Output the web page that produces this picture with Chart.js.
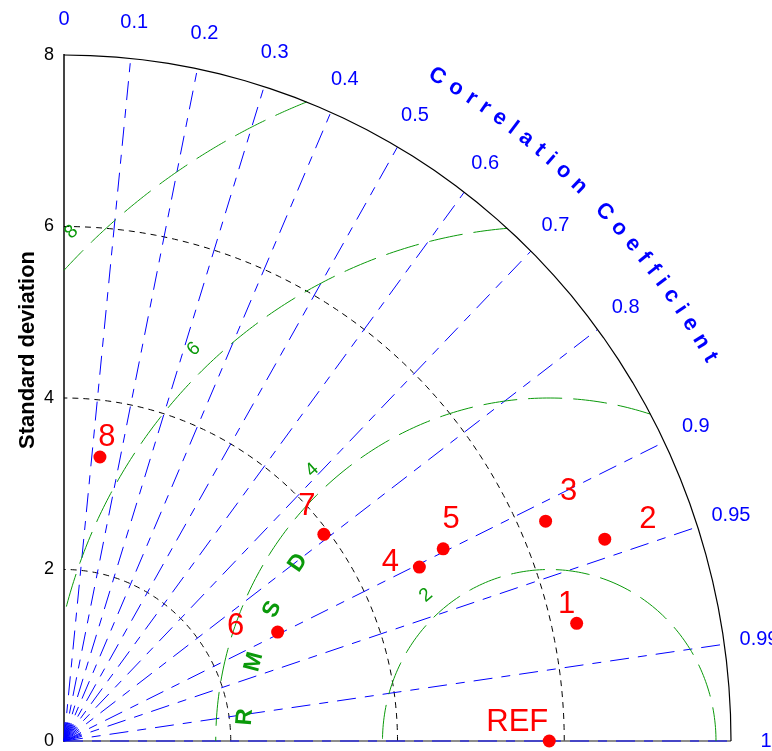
<!DOCTYPE html>
<html lang="en">
<head>
<meta charset="UTF-8" />
<title>Taylor diagram</title>
<script src="https://cdn.jsdelivr.net/npm/chart.js"></script>
<style>
  html, body { margin: 0; padding: 0; background: #fff; }
  #wrap { width: 772px; height: 751px; }
</style>
</head>
<body>
<div id="wrap"><canvas id="taylor" width="772" height="751"></canvas></div>
<script>
  // values
  const labels = ['1', '2', '3', '4', '5', '6', '7', '8'];
  const stdDevs = [6.30, 6.90, 6.32, 4.72, 5.07, 2.86, 3.94, 3.34];
  const corrCoefs = [0.976, 0.940, 0.914, 0.903, 0.897, 0.896, 0.791, 0.129];
  const refLabel = 'REF';
  const refStd = 5.82;
  const stdTicks = [0, 2, 4, 6, 8];
  const stdArcs = [2, 4, 6];
  const corrTicks = [0, 0.1, 0.2, 0.3, 0.4, 0.5, 0.6, 0.7, 0.8, 0.9, 0.95, 0.99, 1];
  const corrFan = [0.05, 0.15, 0.25, 0.35, 0.45, 0.55, 0.65, 0.75, 0.85, 0.925, 0.97];
  const rmsdLevels = [2, 4, 6, 8];
  const axisMax = 8;

  // label placement (px offsets from marker)
  const labelOffsets = [[-10, -19], [43, -20], [23, -30], [-29, -5], [8, -29], [-42, -6], [-17, -28], [7, -20]];
  const refOffset = [-32, -19];

  const FONT = '"Liberation Sans", Arial, Helvetica, sans-serif';
  const BLUE = '#0000ff';
  const GREEN = '#0a990a';
  const RED = '#ff0000';
  const deg = Math.PI / 180;

  const points = stdDevs.map((s, i) => ({
    x: s * corrCoefs[i],
    y: s * Math.sqrt(1 - corrCoefs[i] * corrCoefs[i])
  }));

  function toPx(chart, u, v) {
    return [chart.scales.x.getPixelForValue(u), chart.scales.y.getPixelForValue(v)];
  }

  function polyline(ctx, pts, color, width, dash) {
    ctx.beginPath();
    pts.forEach((p, i) => i ? ctx.lineTo(p[0], p[1]) : ctx.moveTo(p[0], p[1]));
    ctx.strokeStyle = color;
    ctx.lineWidth = width;
    ctx.setLineDash(dash);
    ctx.stroke();
  }

  // arc in data space, centre (cx,0), radius r, from a0 to a1 (radians)
  function arcPts(chart, cx, r, a0, a1, n) {
    const pts = [];
    for (let i = 0; i <= n; i++) {
      const a = a0 + (a1 - a0) * i / n;
      pts.push(toPx(chart, cx + r * Math.cos(a), r * Math.sin(a)));
    }
    return pts;
  }

  function rotText(ctx, txt, p, ang) {
    ctx.save();
    ctx.translate(p[0], p[1]);
    ctx.rotate(ang);
    ctx.fillText(txt, 0, 0);
    ctx.restore();
  }

  const taylorGrid = {
    id: 'taylorGrid',
    beforeDatasetsDraw(chart) {
      const ctx = chart.ctx;
      ctx.save();

      // std dev arcs around origin
      stdArcs.forEach(r => {
        polyline(ctx, arcPts(chart, 0, r, 0, Math.PI / 2, 120), '#000', 1, [6, 5]);
      });

      // bottom axis
      polyline(ctx, [toPx(chart, 0, 0), toPx(chart, axisMax, 0)], '#666', 1.5, []);

      // correlation rays
      corrFan.forEach(c => {
        const a = Math.acos(c);
        polyline(ctx, [toPx(chart, 0, 0), toPx(chart, 0.22 * Math.cos(a), 0.22 * Math.sin(a))], BLUE, 1, []);
      });
      corrTicks.forEach(c => {
        if (c === 0) return;
        const a = Math.acos(c);
        polyline(ctx, [toPx(chart, 0, 0), toPx(chart, axisMax * Math.cos(a), axisMax * Math.sin(a))], BLUE, 1, [19, 9, 9, 9]);
      });

      // RMSD arcs around REF
      const R = refStd, M = axisMax;
      rmsdLevels.forEach(r => {
        let a0 = 0, a1 = Math.PI;
        if (R + r > M) {
          const xi = (M * M - r * r + R * R) / (2 * R);
          const yi = Math.sqrt(M * M - xi * xi);
          a0 = Math.atan2(yi, xi - R);
        }
        if (R - r < 0) a1 = Math.acos(-R / r);
        polyline(ctx, arcPts(chart, R, r, a0, a1, 160), GREEN, 1, [34, 11]);
      });

      // outer arc
      polyline(ctx, arcPts(chart, 0, axisMax, 0, Math.PI / 2, 40), '#000', 1.2, []);

      ctx.restore();
    },
    afterDatasetsDraw(chart) {
      const ctx = chart.ctx;
      ctx.save();
      ctx.setLineDash([]);
      ctx.textAlign = 'center';
      ctx.textBaseline = 'middle';

      // correlation tick labels
      ctx.fillStyle = BLUE;
      ctx.font = '20px ' + FONT;
      corrTicks.forEach(c => {
        const a = Math.acos(c);
        ctx.fillText(String(c), ...toPx(chart, 8.42 * Math.cos(a), 8.42 * Math.sin(a)));
      });

      // "Correlation Coefficient" along the arc
      ctx.font = 'bold 22px ' + FONT;
      const title = 'Correlation Coefficient';
      const ws = [...title].map(ch => ctx.measureText(ch).width);
      const L = 756 * Math.PI / 6;
      const base = ws.reduce((s, w) => s + w, 0) - ws[0] / 2 - ws[ws.length - 1] / 2;
      const sp = (L - base) / (ws.length - 1);
      let pos = 0;
      [...title].forEach((ch, i) => {
        if (i > 0) pos += ws[i - 1] / 2 + ws[i] / 2 + sp;
        const th = 60 - 30 * pos / L;
        const p = toPx(chart, 8.95 * Math.cos(th * deg), 8.95 * Math.sin(th * deg));
        rotText(ctx, ch, p, (90 - th) * deg);
      });

      // RMSD labels
      ctx.fillStyle = GREEN;
      ctx.font = '19px ' + FONT;
      rmsdLevels.forEach(r => {
        const phi = 131 + (r / 2 - 1);
        const rr = r + 0.25;
        const p = toPx(chart, refStd + rr * Math.cos(phi * deg), rr * Math.sin(phi * deg));
        rotText(ctx, String(r), p, (90 - phi) * deg);
      });
      ctx.font = 'bold 23px ' + FONT;
      const rmsdAngles = [175.6, 165.4, 155.2, 145.4];
      [...'RMSD'].forEach((ch, i) => {
        const phi = rmsdAngles[i];
        const p = toPx(chart, refStd + 3.66 * Math.cos(phi * deg), 3.66 * Math.sin(phi * deg));
        rotText(ctx, ch, p, (90 - phi) * deg);
      });

      // y axis title
      ctx.fillStyle = '#000';
      ctx.font = 'bold 22px ' + FONT;
      rotText(ctx, 'Standard deviation', [28, 350], -Math.PI / 2);

      // marker labels
      ctx.fillStyle = RED;
      ctx.font = '31px ' + FONT;
      points.forEach((pt, i) => {
        const p = toPx(chart, pt.x, pt.y);
        ctx.fillText(labels[i], p[0] + labelOffsets[i][0], p[1] + labelOffsets[i][1]);
      });
      const rp = toPx(chart, refStd, 0);
      ctx.fillText(refLabel, rp[0] + refOffset[0], rp[1] + refOffset[1]);

      ctx.restore();
    }
  };

  new Chart(document.getElementById('taylor'), {
    type: 'scatter',
    data: {
      datasets: [
        { data: points, backgroundColor: RED, borderWidth: 0, pointRadius: 6.5, clip: false },
        { data: [{ x: refStd, y: 0 }], backgroundColor: RED, borderWidth: 0, pointRadius: 6.5, clip: false }
      ]
    },
    options: {
      responsive: false,
      animation: false,
      devicePixelRatio: 1,
      layout: { padding: { top: 55, right: 41, bottom: 10, left: 0 } },
      plugins: { legend: { display: false }, tooltip: { enabled: false } },
      scales: {
        x: { type: 'linear', min: 0, max: axisMax, display: false },
        y: {
          type: 'linear', min: 0, max: axisMax,
          afterFit(s) {
            s.width = 64;
            s.paddingTop = 0;
            s.paddingBottom = 0;
          },
          afterBuildTicks(s) { s.ticks = stdTicks.map(v => ({ value: v })); },
          ticks: { color: '#000', font: { family: FONT, size: 18 }, padding: 10 },
          grid: { display: false, drawTicks: false },
          border: { display: true, color: '#444', width: 2 }
        }
      }
    },
    plugins: [taylorGrid]
  });
</script>
</body>
</html>
